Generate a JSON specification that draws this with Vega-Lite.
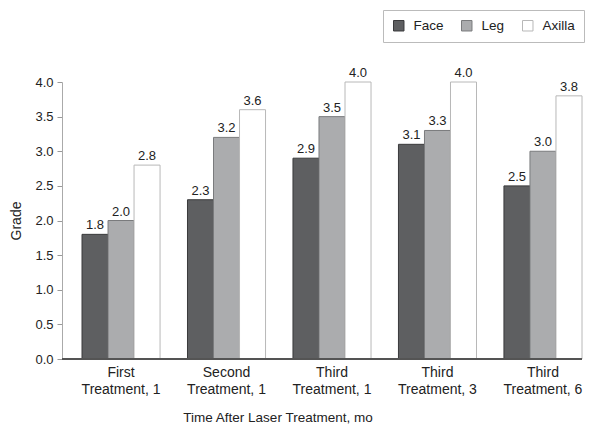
{
  "$schema": "https://vega.github.io/schema/vega-lite/v6.json",
  "width": 520,
  "height": 277,
  "autosize": {"type": "none"},
  "padding": {"left": 62, "top": 82, "right": 8, "bottom": 77},
  "background": "white",
  "config": {
    "font": "Liberation Sans, Arial, sans-serif",
    "view": {"stroke": null},
    "axis": {"labelColor": "#222", "titleColor": "#222", "titleFontWeight": "normal"},
    "axisY": {
      "values": [0, 0.5, 1, 1.5, 2, 2.5, 3, 3.5, 4],
      "format": ".1f",
      "grid": false,
      "labelOverlap": false,
      "labelFontSize": 13,
      "labelPadding": 4,
      "tickSize": 5,
      "tickColor": "#999",
      "domainColor": "#aaa",
      "titleFontSize": 14,
      "titlePadding": 11
    }
  },
  "data": {
    "values": [
      {"time": "First|Treatment, 1", "series": "Face", "grade": 1.8},
      {"time": "First|Treatment, 1", "series": "Leg", "grade": 2.0},
      {"time": "First|Treatment, 1", "series": "Axilla", "grade": 2.8},
      {"time": "Second|Treatment, 1", "series": "Face", "grade": 2.3},
      {"time": "Second|Treatment, 1", "series": "Leg", "grade": 3.2},
      {"time": "Second|Treatment, 1", "series": "Axilla", "grade": 3.6},
      {"time": "Third|Treatment, 1", "series": "Face", "grade": 2.9},
      {"time": "Third|Treatment, 1", "series": "Leg", "grade": 3.5},
      {"time": "Third|Treatment, 1", "series": "Axilla", "grade": 4.0},
      {"time": "Third|Treatment, 3", "series": "Face", "grade": 3.1},
      {"time": "Third|Treatment, 3", "series": "Leg", "grade": 3.3},
      {"time": "Third|Treatment, 3", "series": "Axilla", "grade": 4.0},
      {"time": "Third|Treatment, 6", "series": "Face", "grade": 2.5},
      {"time": "Third|Treatment, 6", "series": "Leg", "grade": 3.0},
      {"time": "Third|Treatment, 6", "series": "Axilla", "grade": 3.8}
    ]
  },
  "layer": [
    {
      "mark": {"type": "bar", "strokeWidth": 1},
      "encoding": {
        "x": {
          "field": "time", "type": "nominal", "sort": null,
          "scale": {"range": [20, 520], "paddingInner": 0.26, "paddingOuter": 0},
          "axis": {
            "title": "Time After Laser Treatment, mo",
            "labelExpr": "split(datum.label, '|')",
            "labelAngle": 0,
            "labelFontSize": 14,
            "labelLineHeight": 17,
            "labelPadding": 6,
            "domain": false,
            "ticks": false,
            "titleFontSize": 13.5,
            "titleX": 215.5,
            "titleY": 62,
            "titleBaseline": "alphabetic",
            "titleAlign": "center"
          }
        },
        "xOffset": {
          "field": "series", "type": "nominal",
          "sort": ["Face", "Leg", "Axilla"],
          "scale": {"paddingInner": 0, "paddingOuter": 0}
        },
        "y": {
          "field": "grade", "type": "quantitative",
          "scale": {"domain": [0, 4], "nice": false},
          "axis": {"title": "Grade", "values": [0, 0.5, 1, 1.5, 2, 2.5, 3, 3.5, 4], "labelOverlap": false}
        },
        "fill": {
          "field": "series", "type": "nominal", "title": null,
          "sort": ["Face", "Leg", "Axilla"],
          "scale": {"domain": ["Face", "Leg", "Axilla"], "range": ["#5e5f61", "#abacae", "#ffffff"]},
          "legend": {
            "orient": "none",
            "legendX": 321,
            "legendY": -72,
            "direction": "horizontal",
            "symbolType": "square",
            "symbolSize": 110,
            "symbolStrokeWidth": 1,
            "labelFontSize": 13.5,
            "labelColor": "#222",
            "labelOffset": 8,
            "columnPadding": 15,
            "padding": 9,
            "strokeColor": "#bbb",
            "fillColor": "white"
          }
        },
        "stroke": {
          "field": "series", "type": "nominal", "title": null,
          "sort": ["Face", "Leg", "Axilla"],
          "scale": {"domain": ["Face", "Leg", "Axilla"], "range": ["#3a3a3c", "#7a7b7d", "#b8b8b8"]}
        }
      }
    },
    {
      "mark": {"type": "text", "baseline": "alphabetic", "dy": -5, "fontSize": 13, "color": "#222"},
      "encoding": {
        "x": {"field": "time", "type": "nominal", "sort": null},
        "xOffset": {"field": "series", "type": "nominal", "sort": ["Face", "Leg", "Axilla"]},
        "y": {"field": "grade", "type": "quantitative", "axis": {"title": "Grade", "values": [0, 0.5, 1, 1.5, 2, 2.5, 3, 3.5, 4], "labelOverlap": false}},
        "text": {"field": "grade", "type": "quantitative", "format": ".1f"}
      }
    },
    {
      "mark": {"type": "rule", "color": "#555", "strokeWidth": 1.5},
      "encoding": {"y": {"datum": 0, "axis": {"title": "Grade", "values": [0, 0.5, 1, 1.5, 2, 2.5, 3, 3.5, 4], "labelOverlap": false}}}
    }
  ]
}
